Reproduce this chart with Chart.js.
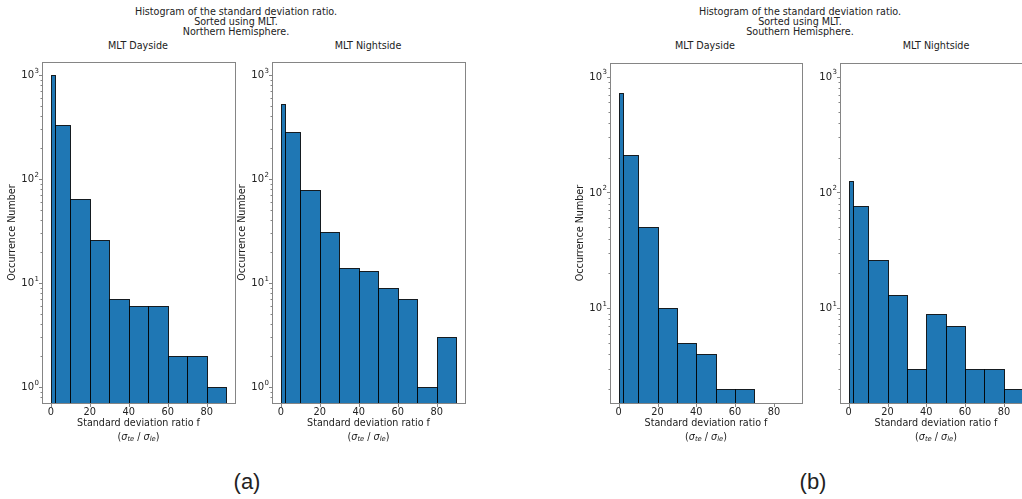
<!DOCTYPE html>
<html>
<head>
<meta charset="utf-8">
<script src="https://cdn.jsdelivr.net/npm/chart.js@4.4.1/dist/chart.umd.min.js"></script>
<style>
  body { margin: 0; width: 1022px; height: 499px; overflow: hidden; background: #fff; position: relative;
         font-family: 'DejaVu Sans', sans-serif; color: #222; }
  canvas { position: absolute; }
  .t { position: absolute; text-align: center; font-size: 9.6px; line-height: 10px; white-space: nowrap;
       transform: translate(-50%, -50%); }
  .lab { position: absolute; font-family: 'Liberation Sans', Arial, sans-serif; font-size: 22px;
         transform: translate(-50%, -50%); }
</style>
</head>
<body>

<div class="t" style="left:236px; top:22px;">Histogram of the standard deviation ratio.<br>Sorted using MLT.<br>Northern Hemisphere.</div>
<div class="t" style="left:800px; top:22px;">Histogram of the standard deviation ratio.<br>Sorted using MLT.<br>Southern Hemisphere.</div>

<div class="t" style="left:138px; top:46px;">MLT Dayside</div>
<div class="t" style="left:368px; top:46px;">MLT Nightside</div>
<div class="t" style="left:705px; top:46px;">MLT Dayside</div>
<div class="t" style="left:936px; top:46px;">MLT Nightside</div>

<canvas id="nhDayChart"></canvas>
<canvas id="nhNightChart"></canvas>
<canvas id="shDayChart"></canvas>
<canvas id="shNightChart"></canvas>

<div class="lab" style="left:247px; top:482px;">(a)</div>
<div class="lab" style="left:813px; top:482px;">(b)</div>

<script>
// bin edges of the histograms (standard deviation ratio f)
const binEdges = [0, 2, 10, 20, 30, 40, 50, 60, 70, 80, 90];

// occurrence numbers per bin
const nhDay   = [1000, 330, 64, 26, 7, 6, 6, 2, 2, 1];
const nhNight = [530, 280, 78, 31, 14, 13, 9, 7, 1, 3];
const shDay   = [720, 210, 50, 10, 5, 4, 2, 2, 0, 0];
const shNight = [126, 76, 26, 13, 3, 9, 7, 3, 3, 2];

const xTicks = [0, 20, 40, 60, 80];
const xRange = [-4.5, 94.5];
const nhRange = [0.723, 1332];   // shared y limits, northern hemisphere
const shRange = [1.52, 1312];    // shared y limits, southern hemisphere

const frameColor = '#858585';
const textColor = '#222';
const FONT = "'DejaVu Sans', sans-serif";

Chart.defaults.font.family = FONT;
Chart.defaults.font.size = 9.5;
Chart.defaults.color = textColor;

function logTicks(min, max) {
    const out = [];
    for (let e = Math.floor(Math.log10(min)); e <= Math.ceil(Math.log10(max)); e++) {
        for (let m = 1; m < 10; m++) {
            const v = m * Math.pow(10, e);
            if (v >= min && v <= max) out.push({ value: v, major: m === 1 });
        }
    }
    return out;
}

// second line of the x title: (σ_te / σ_le) with italic symbols and subscripts
function drawRatioLabel(ctx, cx, cy) {
    const parts = [
        { s: '(', f: '9.6px ' + FONT, dy: 0 },
        { s: 'σ', f: 'italic 9.6px ' + FONT, dy: 0 },
        { s: 'te', f: 'italic 6.8px ' + FONT, dy: 2 },
        { s: ' / ', f: '9.6px ' + FONT, dy: 0 },
        { s: 'σ', f: 'italic 9.6px ' + FONT, dy: 0 },
        { s: 'le', f: 'italic 6.8px ' + FONT, dy: 2 },
        { s: ')', f: '9.6px ' + FONT, dy: 0 }
    ];
    let total = 0;
    parts.forEach(p => { ctx.font = p.f; p.w = ctx.measureText(p.s).width; total += p.w; });
    let xx = cx - total / 2;
    ctx.textAlign = 'left';
    ctx.textBaseline = 'middle';
    parts.forEach(p => { ctx.font = p.f; ctx.fillText(p.s, xx, cy + p.dy); xx += p.w; });
}

// draws the histogram bars, the frame, the tick marks and the 10^n labels with the chart's scales
const histPlugin = {
    id: 'hist',
    afterDatasetsDraw(chart, args, opts) {
        const { ctx, chartArea: a, scales: { x, y } } = chart;
        ctx.save();
        ctx.beginPath();
        ctx.rect(a.left, a.top, a.right - a.left, a.bottom - a.top);
        ctx.clip();
        opts.counts.forEach((c, i) => {
            if (!c) return;
            const x0 = Math.round(x.getPixelForValue(opts.edges[i])) + 0.5;
            const x1 = Math.round(x.getPixelForValue(opts.edges[i + 1])) + 0.5;
            const yt = Math.round(y.getPixelForValue(c)) + 0.5;
            const h = a.bottom + 3 - yt;
            ctx.fillStyle = '#1f77b4';
            ctx.fillRect(x0, yt, x1 - x0, h);
            ctx.strokeStyle = 'rgba(0,0,0,0.85)';
            ctx.lineWidth = 1;
            ctx.strokeRect(x0, yt, x1 - x0, h);
        });
        ctx.restore();
    },
    afterDraw(chart) {
        const { ctx, chartArea: a, scales: { x, y } } = chart;
        ctx.save();
        ctx.strokeStyle = frameColor;
        ctx.lineWidth = 1;
        ctx.strokeRect(Math.round(a.left) + 0.5, Math.round(a.top) + 0.5,
                       Math.round(a.right - a.left), Math.round(a.bottom - a.top));
        ctx.beginPath();
        x.ticks.forEach(t => {
            const px = Math.round(x.getPixelForValue(t.value)) + 0.5;
            ctx.moveTo(px, Math.round(a.bottom) + 0.5);
            ctx.lineTo(px, Math.round(a.bottom) + 4);
        });
        y.ticks.forEach(t => {
            const py = Math.round(y.getPixelForValue(t.value)) + 0.5;
            const len = t.major ? 3.5 : 2;
            ctx.moveTo(Math.round(a.left) + 0.5, py);
            ctx.lineTo(Math.round(a.left) + 0.5 - len, py);
        });
        ctx.stroke();

        // major labels as 10 with a raised exponent
        ctx.fillStyle = textColor;
        ctx.textBaseline = 'middle';
        y.ticks.filter(t => t.major).forEach(t => {
            const py = y.getPixelForValue(t.value);
            const exp = String(Math.round(Math.log10(t.value)));
            ctx.font = '7px ' + FONT;
            const ew = ctx.measureText(exp).width;
            const right = a.left - 3;
            ctx.textAlign = 'right';
            ctx.fillText(exp, right, py - 4);
            ctx.font = '10px ' + FONT;
            ctx.fillText('10', right - ew - 0.5, py + 0.5);
        });

        drawRatioLabel(ctx, (a.left + a.right) / 2, a.bottom + 34);
        ctx.restore();
    }
};

function makePanel(id, counts, range, box, showYTitle) {
    const yAxisW = 42, padTop = 10, padRight = 10;
    const w = Math.round(box.right - box.left);
    const canvas = document.getElementById(id);
    const cLeft = Math.round(box.left) - yAxisW;
    const cTop = box.top - padTop;
    const cBottom = 444;
    canvas.width = yAxisW + w + padRight;
    canvas.height = cBottom - cTop;
    canvas.style.left = cLeft + 'px';
    canvas.style.top = cTop + 'px';
    const xAxisH = cBottom - box.bottom;

    new Chart(canvas, {
        type: 'scatter',
        data: {
            datasets: [{
                label: 'Occurrence Number',
                data: counts.map((c, i) => ({ x: (binEdges[i] + binEdges[i + 1]) / 2, y: c > 0 ? c : null })),
                pointRadius: 0,
                pointHoverRadius: 0
            }]
        },
        options: {
            responsive: false,
            animation: false,
            devicePixelRatio: 1,
            layout: { padding: { top: padTop, right: padRight, bottom: 0, left: 0 } },
            plugins: {
                legend: { display: false },
                tooltip: { enabled: false },
                hist: { edges: binEdges, counts: counts }
            },
            scales: {
                x: {
                    type: 'linear',
                    min: xRange[0],
                    max: xRange[1],
                    afterBuildTicks: s => { s.ticks = xTicks.map(v => ({ value: v })); },
                    afterFit: s => { s.height = xAxisH; },
                    grid: { drawOnChartArea: false, drawTicks: true, tickLength: 3, tickColor: 'rgba(0,0,0,0)' },
                    border: { display: false },
                    ticks: { padding: 1, autoSkip: false, maxRotation: 0, font: { size: 9.8 },
                             callback: v => String(v) },
                    title: {
                        display: true,
                        text: 'Standard deviation ratio f',
                        font: { size: 9.6, lineHeight: 1.43 },
                        padding: { top: 0, bottom: 14 }
                    }
                },
                y: {
                    type: 'logarithmic',
                    min: range[0],
                    max: range[1],
                    afterBuildTicks: s => { s.ticks = logTicks(range[0], range[1]); },
                    afterFit: s => { s.width = yAxisW; },
                    grid: { drawOnChartArea: false, drawTicks: true, tickLength: 3, tickColor: 'rgba(0,0,0,0)' },
                    border: { display: false },
                    ticks: { padding: 0, autoSkip: false, font: { size: 10 }, callback: () => '' },
                    title: {
                        display: showYTitle,
                        text: 'Occurrence Number',
                        font: { size: 9.6 },
                        padding: { top: 7, bottom: 0 }
                    }
                }
            }
        },
        plugins: [histPlugin]
    });
}

makePanel('nhDayChart',   nhDay,   nhRange, { left: 42.2,  right: 234.9, top: 62, bottom: 403 }, true);
makePanel('nhNightChart', nhNight, nhRange, { left: 272.2, right: 464.9, top: 62, bottom: 403 }, true);
makePanel('shDayChart',   shDay,   shRange, { left: 609.6, right: 801.4, top: 63, bottom: 403 }, true);
makePanel('shNightChart', shNight, shRange, { left: 840.3, right: 1032,  top: 63, bottom: 403 }, false);
</script>
</body>
</html>
